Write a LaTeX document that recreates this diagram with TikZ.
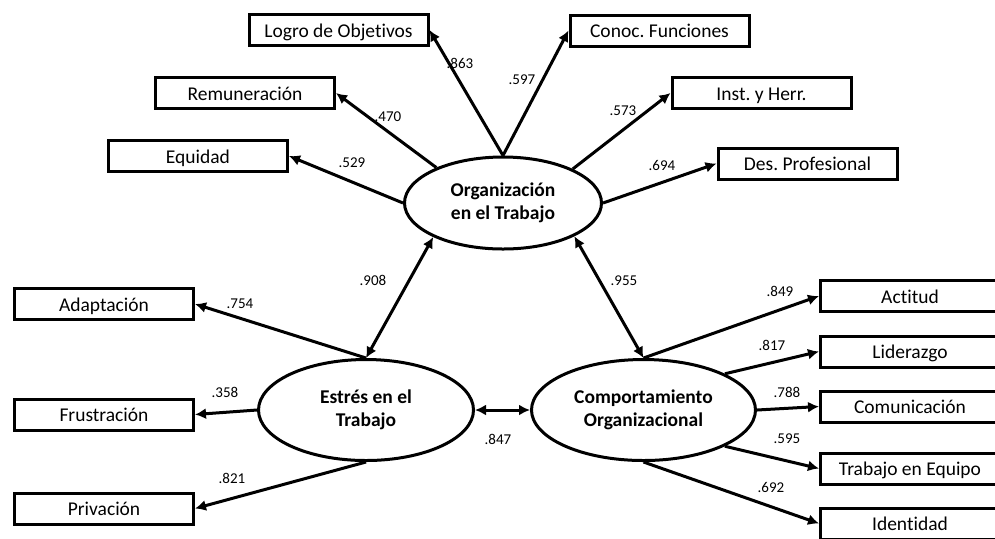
\documentclass[tikz,border=0pt]{standalone}
\usepackage{fontspec}
\setmainfont{Carlito}[Ligatures=NoCommon]
\usepackage{tikz}
\usetikzlibrary{positioning,arrows.meta,shapes.geometric}
\definecolor{ink}{HTML}{000000}
\frenchspacing

\begin{document}
\begin{tikzpicture}[
  x=0.5pt,y=-0.5pt,
  font=\fontsize{9.75}{11.5}\selectfont,
  >={Latex[length=5.5pt,width=5.5pt]},
  obs/.style={draw=ink,line width=1.5pt,minimum width=89.5pt,minimum height=15.5pt,inner sep=0pt,text height=8.2pt,text depth=1pt},
  lat/.style={draw=ink,line width=1.5pt,ellipse,inner sep=0pt,align=center,font=\fontsize{9.75}{11.5}\selectfont\bfseries},
  lbl/.style={font=\fontsize{7.5}{9}\selectfont,inner sep=0pt},
  load/.style={->,line width=1.5pt,ink},
  cov/.style={<->,line width=1.5pt,ink}
]
\clip (0,0) rectangle (995,538);
% latent factors
\node[lat,minimum width=98.5pt,minimum height=46pt] (org) at (503,203) {Organización\\en el Trabajo};
\node[lat,minimum width=107.5pt,minimum height=50.5pt] (est) at (366,410) {Estrés en el\\Trabajo};
\node[lat,minimum width=112pt,minimum height=50.5pt] (comp) at (643.5,410) {Comportamiento\\Organizacional};
% indicators of organizacion
\node[obs] (logro) at (338.5,30) {Logro de Objetivos};
\node[obs] (remu) at (245,93) {Remuneración};
\node[obs] (equi) at (198,156) {Equidad};
\node[obs] (conoc) at (659.5,30.5) {Conoc. Funciones};
\node[obs] (inst) at (761.5,93) {Inst. y Herr.};
\node[obs] (desp) at (807.5,163.5) {Des. Profesional};
% indicators of estres
\node[obs] (adap) at (104,304) {Adaptación};
\node[obs] (frus) at (104,414.5) {Frustración};
\node[obs] (priv) at (104,508.5) {Privación};
% indicators of comportamiento
\node[obs] (acti) at (910,296) {Actitud};
\node[obs] (lide) at (910,351.5) {Liderazgo};
\node[obs] (comu) at (910,406.5) {Comunicación};
\node[obs] (trab) at (910,468.5) {Trabajo en Equipo};
\node[obs] (iden) at (910,523.5) {Identidad};
% loadings
\draw[load] (org.north) -- (logro.east);
\draw[load] (org.152.6) -- (remu.east);
\draw[load] (org.west) -- (equi.east);
\draw[load] (org.north) -- (conoc.west);
\draw[load] (org.26.4) -- (inst.west);
\draw[load] (org.east) -- (desp.west);
\draw[load] (est.north) -- (adap.east);
\draw[load] (est.west) -- (frus.east);
\draw[load] (est.south) -- (priv.east);
\draw[load] (comp.north) -- (acti.west);
\draw[load] (comp.24.4) -- (lide.west);
\draw[load] (comp.east) -- (comu.west);
\draw[load] (comp.-24.4) -- (trab.west);
\draw[load] (comp.south) -- (iden.west);
% correlations
\draw[cov] (org.206.7) -- (est.north);
\draw[cov] (org.335) -- (comp.north);
\draw[cov] (est.east) -- (comp.west);
% values
\node[lbl] (v863) at (460,63) {.863};
\node[lbl] (v597) at (522,80) {.597};
\node[lbl] (v470) at (388,117) {.470};
\node[lbl] (v529) at (352,163) {.529};
\node[lbl] (v573) at (623,111) {.573};
\node[lbl] (v694) at (662,165) {.694};
\node[lbl] (v908) at (373,280) {.908};
\node[lbl] (v754) at (240,304) {.754};
\node[lbl] (v358) at (225,392) {.358};
\node[lbl] (v821) at (232,478) {.821};
\node[lbl] (v847) at (498,439) {.847};
\node[lbl] (v955) at (624,281) {.955};
\node[lbl] (v849) at (780,291) {.849};
\node[lbl] (v817) at (772,345) {.817};
\node[lbl] (v788) at (787,392) {.788};
\node[lbl] (v595) at (787,439) {.595};
\node[lbl] (v692) at (771,487) {.692};
\end{tikzpicture}
\end{document}
